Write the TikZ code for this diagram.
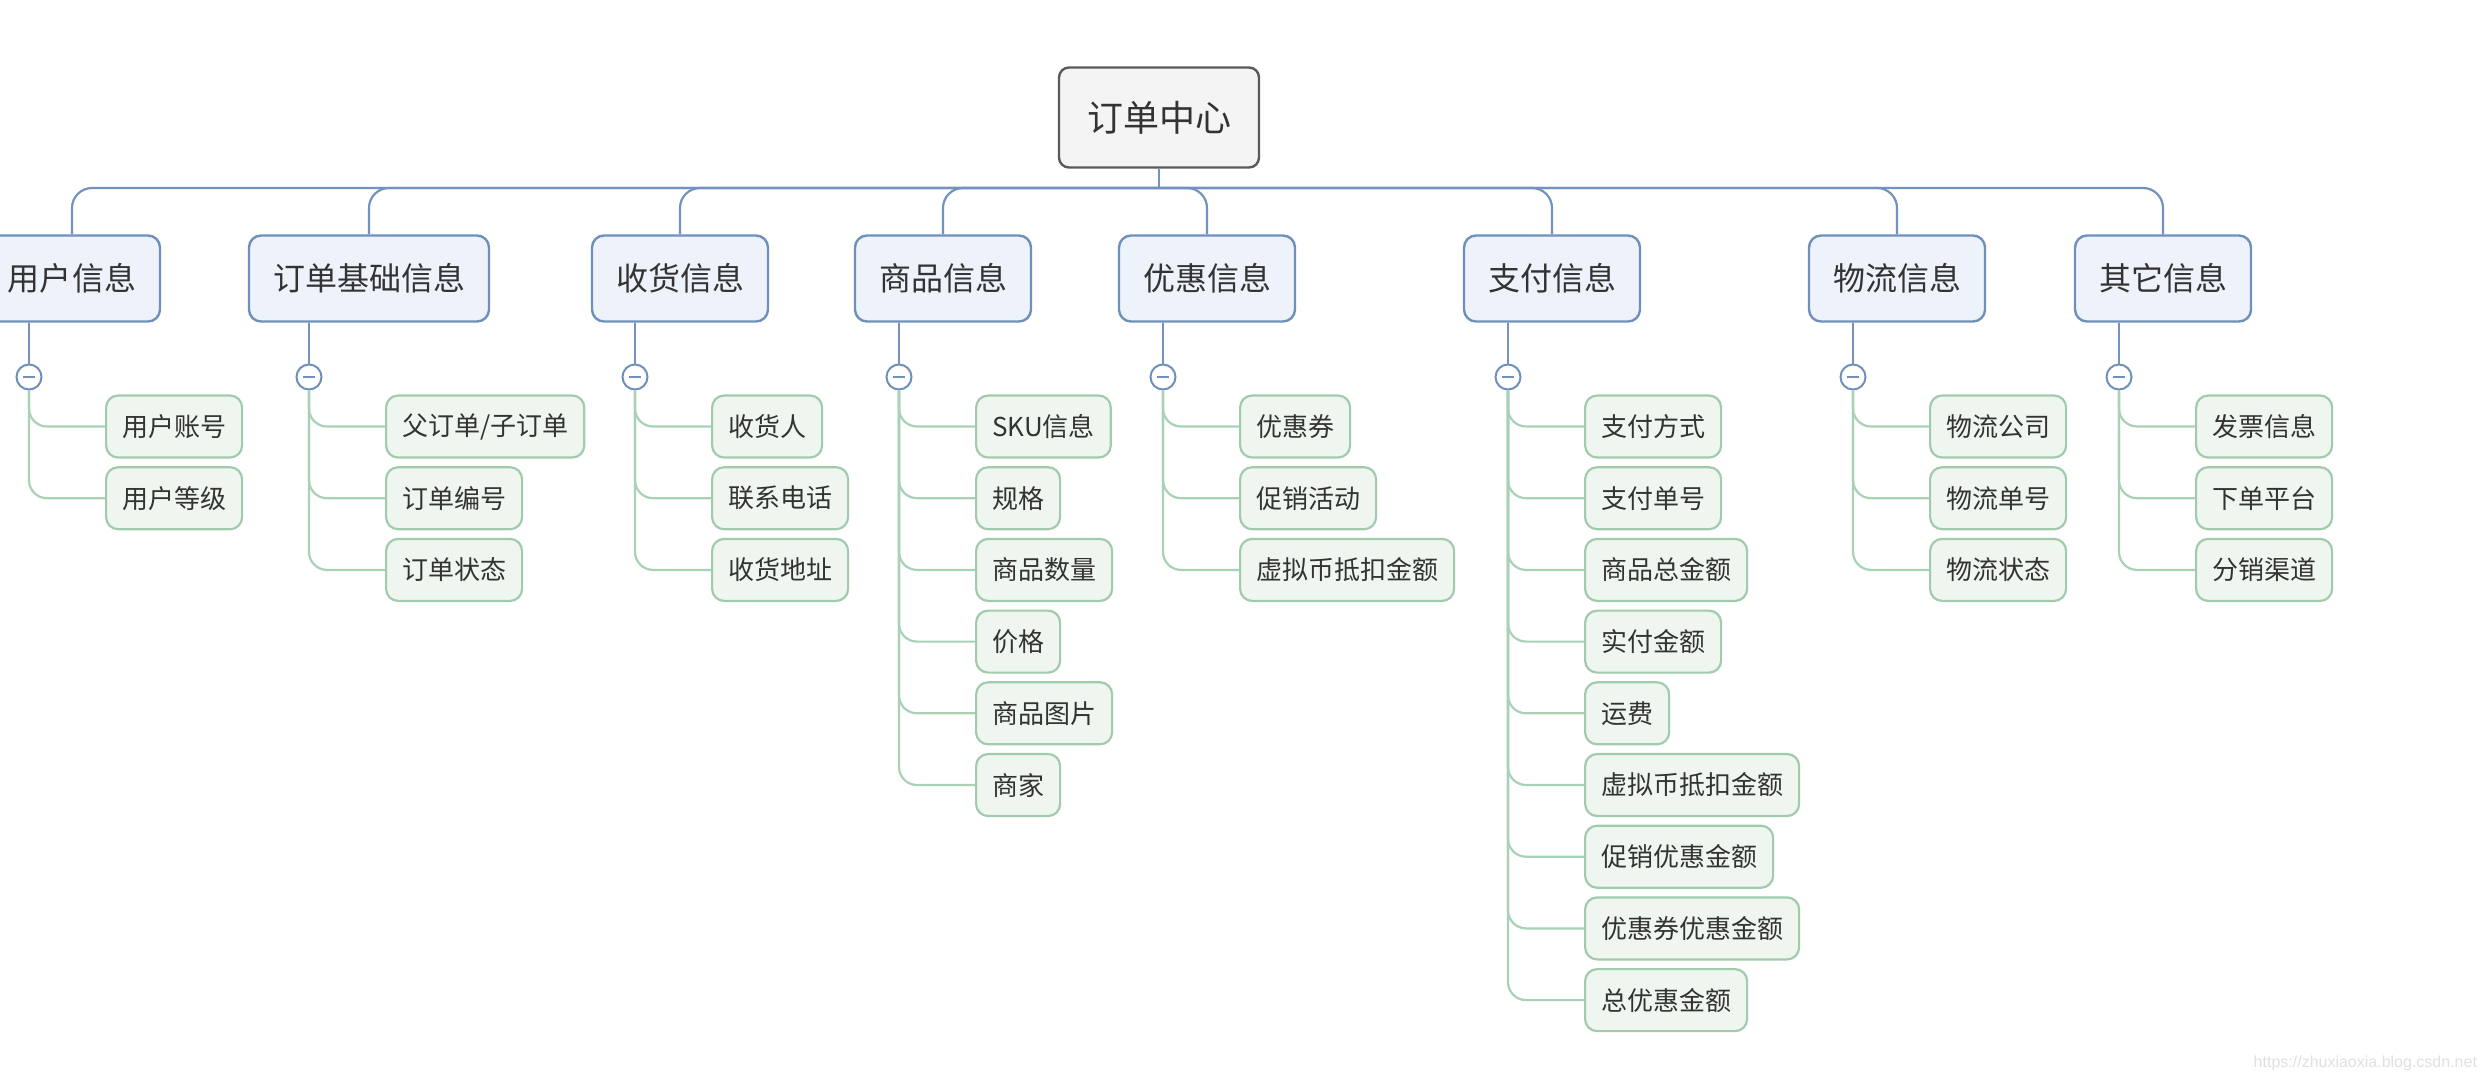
\documentclass[tikz,border=0pt]{standalone}
\usepackage{fontspec}
\setmainfont{Noto Sans CJK SC}
\newfontfamily\urlfont{Liberation Sans}
\definecolor{inkgrey}{HTML}{333333}
\definecolor{rootline}{HTML}{5A5A5A}
\definecolor{rootfill}{HTML}{F4F4F4}
\definecolor{topicline}{HTML}{7090BC}
\definecolor{topicfill}{HTML}{EEF3FB}
\definecolor{busline}{HTML}{7393BE}
\definecolor{leafline}{HTML}{A2CBAE}
\definecolor{leaffill}{HTML}{EEF6EF}
\definecolor{twigline}{HTML}{A8D1B5}
\begin{document}
\begin{tikzpicture}
        [x=0.5pt, y=-0.5pt,
        root/.style={rectangle, rounded corners=5pt, draw=rootline, fill=rootfill, line width=1.2pt,
          text=inkgrey, font=\fontsize{18}{18}\selectfont, inner xsep=14pt, minimum height=50pt},
        topic/.style={rectangle, rounded corners=6pt, draw=topicline, fill=topicfill, line width=1.2pt,
          text=inkgrey, font=\fontsize{16}{16}\selectfont, inner xsep=12pt, minimum height=43pt},
        leaf/.style={rectangle, rounded corners=6pt, draw=leafline, fill=leaffill, line width=1.1pt,
          text=inkgrey, font=\fontsize{13}{13}\selectfont, inner xsep=8pt, minimum height=31pt, anchor=west},
        fold/.style={circle, draw=topicline, fill=white, line width=1pt, minimum size=12.5pt, inner sep=0pt,
          path picture={\draw[topicline, line width=1pt]
            ([xshift=-3.2pt]path picture bounding box.center) -- ([xshift=3.2pt]path picture bounding box.center);}},
        bus/.style={draw=busline, line width=1.1pt},
        twig/.style={draw=twigline, line width=1.1pt, rounded corners=9pt},
        ]
        \useasboundingbox (0,0) rectangle (2492,1082);

        % root and first level
        \node[root] (center) at (1159,117.5) {订单中心};
        \node[topic] (user) at (72,278.5) {用户信息};
        \node[topic] (base) at (369,278.5) {订单基础信息};
        \node[topic] (recv) at (680,278.5) {收货信息};
        \node[topic] (goods) at (943,278.5) {商品信息};
        \node[topic] (promo) at (1207,278.5) {优惠信息};
        \node[topic] (pay) at (1552,278.5) {支付信息};
        \node[topic] (ship) at (1897,278.5) {物流信息};
        \node[topic] (other) at (2163,278.5) {其它信息};

        \coordinate (hub) at (1159,188);
        \draw[bus] (center) -- (hub);
        \foreach \t in {user,base,recv,goods,promo,pay,ship,other}
          \draw[bus, rounded corners=10pt] (hub) -| (\t);

        % fold buttons
        \node[fold] (user-c) at (29,377) {};
        \node[fold] (base-c) at (309,377) {};
        \node[fold] (recv-c) at (635,377) {};
        \node[fold] (goods-c) at (899,377) {};
        \node[fold] (promo-c) at (1163,377) {};
        \node[fold] (pay-c) at (1508,377) {};
        \node[fold] (ship-c) at (1853,377) {};
        \node[fold] (other-c) at (2119,377) {};
        \foreach \t in {user,base,recv,goods,promo,pay,ship,other}
          \draw[bus] (\t.south -| \t-c) -- (\t-c);

        % leaves
        \foreach \s [count=\i] in {用户账号,用户等级}
          {\node[leaf] (user-\i) at (105,{426.5+71.7*(\i-1)}) {\s};
           \draw[twig] (user-c) |- (user-\i);}
        \foreach \s [count=\i] in {父订单/子订单,订单编号,订单状态}
          {\node[leaf] (base-\i) at (385,{426.5+71.7*(\i-1)}) {\s};
           \draw[twig] (base-c) |- (base-\i);}
        \foreach \s [count=\i] in {收货人,联系电话,收货地址}
          {\node[leaf] (recv-\i) at (711,{426.5+71.7*(\i-1)}) {\s};
           \draw[twig] (recv-c) |- (recv-\i);}
        \foreach \s [count=\i] in {SKU信息,规格,商品数量,价格,商品图片,商家}
          {\node[leaf] (goods-\i) at (975,{426.5+71.7*(\i-1)}) {\s};
           \draw[twig] (goods-c) |- (goods-\i);}
        \foreach \s [count=\i] in {优惠券,促销活动,虚拟币抵扣金额}
          {\node[leaf] (promo-\i) at (1239,{426.5+71.7*(\i-1)}) {\s};
           \draw[twig] (promo-c) |- (promo-\i);}
        \foreach \s [count=\i] in {支付方式,支付单号,商品总金额,实付金额,运费,虚拟币抵扣金额,促销优惠金额,优惠券优惠金额,总优惠金额}
          {\node[leaf] (pay-\i) at (1584,{426.5+71.7*(\i-1)}) {\s};
           \draw[twig] (pay-c) |- (pay-\i);}
        \foreach \s [count=\i] in {物流公司,物流单号,物流状态}
          {\node[leaf] (ship-\i) at (1929,{426.5+71.7*(\i-1)}) {\s};
           \draw[twig] (ship-c) |- (ship-\i);}
        \foreach \s [count=\i] in {发票信息,下单平台,分销渠道}
          {\node[leaf] (other-\i) at (2195,{426.5+71.7*(\i-1)}) {\s};
           \draw[twig] (other-c) |- (other-\i);}

        \node[anchor=east, text=black!12, font=\urlfont\fontsize{8}{8}\selectfont] (mark) at (2484,1063)
          {https://zhuxiaoxia.blog.csdn.net};
\end{tikzpicture}
\end{document}
